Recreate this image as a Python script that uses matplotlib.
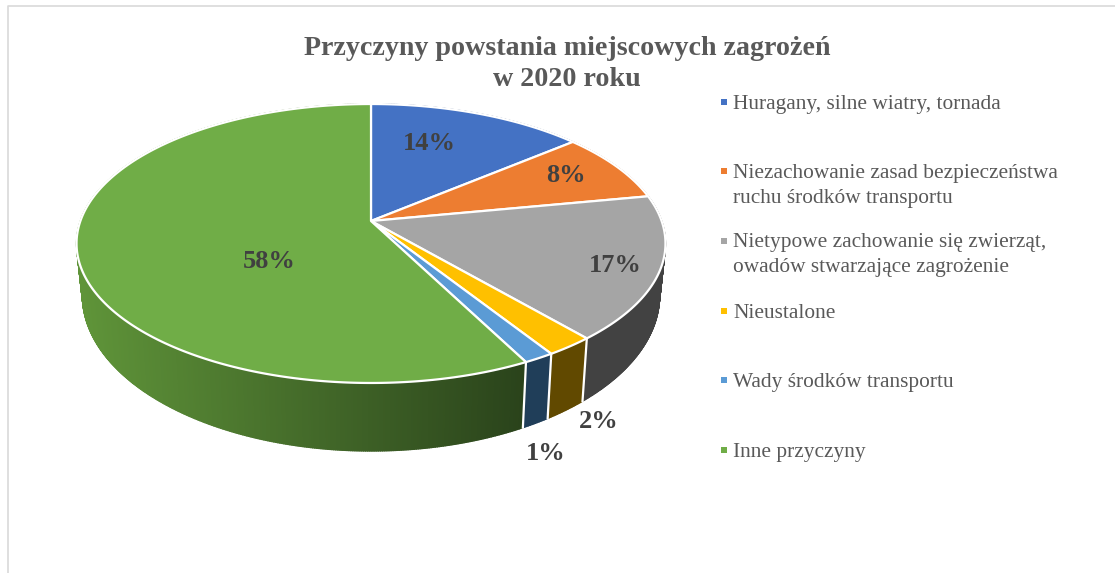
import numpy as np
import matplotlib
matplotlib.use("Agg")
import matplotlib.pyplot as plt
from matplotlib.collections import PolyCollection
from matplotlib.colors import to_rgb

title = "Przyczyny powstania miejscowych zagrożeń\nw 2020 roku"
categories = [
    "Huragany, silne wiatry, tornada",
    "Niezachowanie zasad bezpieczeństwa\nruchu środków transportu",
    "Nietypowe zachowanie się zwierząt,\nowadów stwarzające zagrożenie",
    "Nieustalone",
    "Wady środków transportu",
    "Inne przyczyny",
]
# estimated from slice borders, they round to the printed percentages
values = [13.9, 8.1, 16.7, 2.3, 1.45, 57.55]
colors = ["#4472C4", "#ED7D31", "#A5A5A5", "#FFC000", "#5B9BD5", "#70AD47"]
side_colors = ["#27437a", "#8f4a1a", "#424242", "#614900", "#203e59", "#2a431b"]

label_pos = [(429, 143), (566, 176), (615, 265), (599, 422), (546, 453), (269, 261)]
legend_y = [102, 171, 241, 311, 380, 450]
legend_text_y = [105, 186, 255, 314, 383, 453]

# pixel position of the pie on the page
CX, CY = 371.0, 221.0
PERSP = 0.1613
DX, DY = 290.6, -100.2


def top_point(t):
    # t is clockwise from 12 o'clock, perspective moves the hub above the ellipse centre
    x, y = np.sin(t), np.cos(t)
    den = 1 + PERSP * y
    return CX + DX * x / den, (DY * y + CY) / den


def bottom_point(t):
    x, y = top_point(t)
    return CX + (x - CX) * 0.98, 451 + (y - 383) * 1.116


fig = plt.figure(figsize=(11.15, 5.73), dpi=100)
ax = fig.add_axes([0, 0, 1, 1])
ax.set_xlim(0, 1115)
ax.set_ylim(573, 0)
ax.axis("off")

# chart frame, only top and left show
ax.plot([8, 8, 1115], [573, 6, 6], color="#d9d9d9", lw=1.2)

edges = np.concatenate([[0], np.cumsum(values)]) / sum(values) * 2 * np.pi

# side wall
for i in range(len(values)):
    t = np.linspace(edges[i], edges[i + 1], max(int(values[i] * 10), 6) + 1)
    quads = []
    cols = []
    for a, b in zip(t[:-1], t[1:]):
        xa, ya = top_point(a)
        xb, yb = top_point(b)
        xc, yc = bottom_point(b)
        xd, yd = bottom_point(a)
        quads.append([(xa, ya), (xb, yb), (xc, yc), (xd, yd)])
        if i == 5:
            # green wall gets lighter towards the left
            f = np.clip((xa - 80) / (525 - 80), 0, 1)
            cols.append(tuple(np.array(to_rgb("#5f9439")) * (1 - f) + np.array(to_rgb(side_colors[i])) * f))
        else:
            cols.append(to_rgb(side_colors[i]))
    ax.add_collection(PolyCollection(quads, facecolors=cols, edgecolors=cols, linewidths=1.0, zorder=2))

# white seams on the visible wall
for e in edges[1:]:
    if np.cos(e) < 0:
        x0, y0 = top_point(e)
        x1, y1 = bottom_point(e)
        ax.plot([x0, x1], [y0, y1], color="white", lw=1.6, zorder=3)

# top face
for i in range(len(values)):
    t = np.linspace(edges[i], edges[i + 1], max(int(values[i] * 6), 6) + 1)
    xs, ys = top_point(t)
    ax.fill(np.r_[CX, xs], np.r_[CY, ys], facecolor=colors[i], edgecolor="white", lw=1.6,
            joinstyle="round", zorder=4)

for v, (x, y) in zip(values, label_pos):
    ax.text(x, y, f"{v:.0f}%", ha="center", va="center", family="Liberation Serif",
            weight="bold", fontsize=19, color="#404040", zorder=5)

ax.text(567, 64, title, ha="center", va="center", family="Liberation Serif", weight="bold",
        fontsize=20.15, color="#595959", linespacing=1.35)

for name, c, y, ty in zip(categories, colors, legend_y, legend_text_y):
    ax.scatter([723.5], [y], marker="s", s=22, color=c, linewidths=0)
    ax.text(733, ty, name, ha="left", va="center", family="Liberation Serif",
            fontsize=15.4, color="#595959", linespacing=1.42)

fig.savefig("out.png", dpi=100)
